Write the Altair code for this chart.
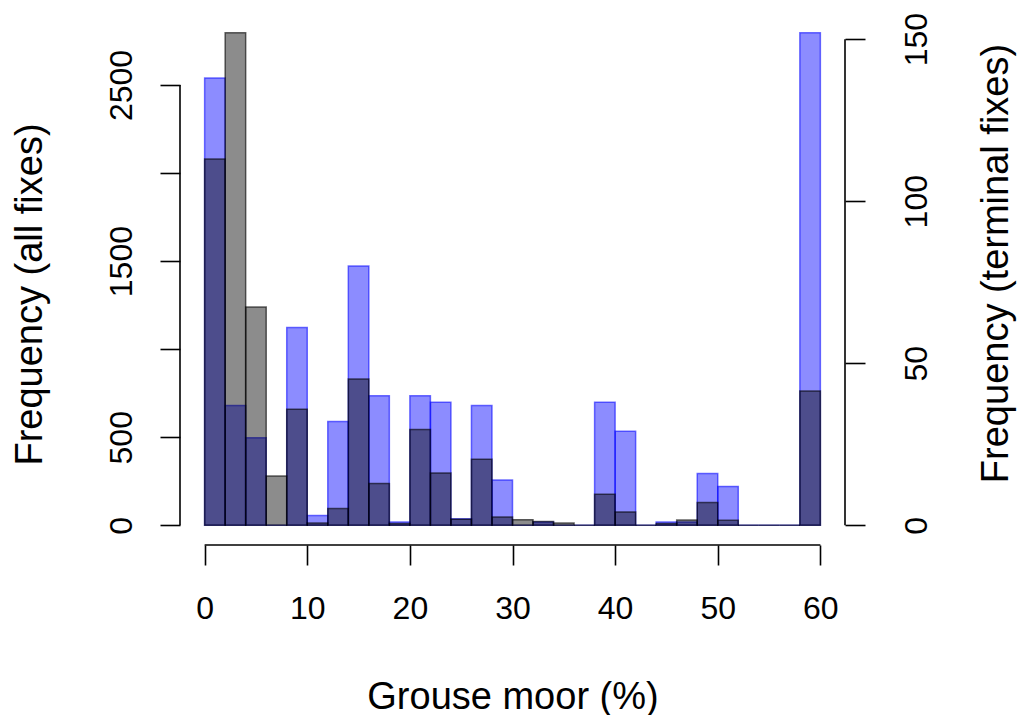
import altair as alt
import pandas as pd

# ---- data (bins of width 2 on 0..60 %) ----
bin_start = list(range(0, 60, 2))
all_fixes = [2080, 2797, 1240, 280, 659, 13, 95, 830, 237, 10,
             544, 297, 35, 375, 47, 32, 22, 13, 0, 176,
             76, 0, 10, 30, 129, 28, 0, 0, 0, 763]
terminal_fixes = [138, 37, 27, 0, 61, 3, 32, 80, 40, 1,
                  40, 38, 2, 37, 14, 0, 1, 0, 0, 38,
                  29, 0, 1, 1, 16, 12, 0, 0, 0, 152]
x_ticks = [0, 10, 20, 30, 40, 50, 60]
left_ticks = [0, 500, 1000, 1500, 2000, 2500]
right_ticks = [0, 50, 100, 150]

W, H = 665, 532
FONT = "Liberation Sans"
FS = 32
TFS = 38

df = pd.DataFrame({
    "start": bin_start,
    "end": [s + 2 for s in bin_start],
    "all": all_fixes,
    "term": terminal_fixes,
    "zero": [0] * len(bin_start),
})
xline = pd.DataFrame({"a": [x_ticks[0]], "b": [x_ticks[-1]]})
lline = pd.DataFrame({"a": [left_ticks[0]], "b": [left_ticks[-1]]})
rline = pd.DataFrame({"a": [right_ticks[0]], "b": [right_ticks[-1]]})

xr = x_ticks[-1] - x_ticks[0]
xscale = alt.Scale(domain=[x_ticks[0] - 0.04 * xr, x_ticks[-1] + 0.04 * xr], nice=False, zero=False)
ma, mt = max(all_fixes), max(terminal_fixes)
yall = alt.Scale(domain=[-0.04 * ma, 1.04 * ma], nice=False, zero=False)
yterm = alt.Scale(domain=[-0.04 * mt, 1.04 * mt], nice=False, zero=False)

common_axis = dict(domain=False, grid=False, tickSize=20, tickWidth=1.6, tickColor="black",
                   labelFont=FONT, labelFontSize=FS, labelColor="black", format="d",
                   titleFont=FONT, titleFontSize=TFS, titleColor="black", titleFontWeight="normal",
                   labelOverlap=False, labelFlush=False)

xaxis = alt.Axis(values=x_ticks, title="Grouse moor (%)", labelPadding=28,
                 labelBaseline="top", titleX=W / 2, titleY=152, titleAlign="center",
                 titleBaseline="middle", **common_axis)

# blue histogram: terminal fixes (right axis)
blue_bars = alt.Chart(df).mark_rect(
    fill="#0000ff", fillOpacity=0.45, stroke="#0000ff", strokeOpacity=0.55, strokeWidth=1.5
).encode(
    x=alt.X("start:Q", scale=xscale, axis=xaxis),
    x2="end:Q",
    y=alt.Y("term:Q", scale=yterm,
            axis=alt.Axis(orient="right", values=right_ticks, title="Frequency (terminal fixes)",
                          labelAngle=270, labelAlign="center", labelBaseline="alphabetic",
                          labelPadding=61, titleAngle=270, titleX=151, titleY=250,
                          titleAlign="center", titleBaseline="middle", **common_axis)),
    y2="zero:Q",
)
right_line = alt.Chart(rline).mark_rule(color="black", strokeWidth=1.6).encode(
    y=alt.Y("a:Q", scale=yterm), y2="b:Q", x=alt.value(W)
)

# gray histogram: all fixes (left axis)
gray_bars = alt.Chart(df).mark_rect(
    fill="#000000", fillOpacity=0.45, stroke="#000000", strokeOpacity=0.6, strokeWidth=1.5
).encode(
    x=alt.X("start:Q", scale=xscale, axis=xaxis),
    x2="end:Q",
    y=alt.Y("all:Q", scale=yall,
            axis=alt.Axis(orient="left", values=left_ticks, title="Frequency (all fixes)",
                          labelExpr="(datum.value == 1000 || datum.value == 2000) ? '' : datum.label",
                          labelAngle=270, labelAlign="center", labelBaseline="alphabetic",
                          labelPadding=29, titleAngle=270, titleX=-150, titleY=281,
                          titleAlign="center", titleBaseline="middle", **common_axis)),
    y2="zero:Q",
)
left_line = alt.Chart(lline).mark_rule(color="black", strokeWidth=1.6).encode(
    y=alt.Y("a:Q", scale=yall), y2="b:Q", x=alt.value(0)
)
x_line = alt.Chart(xline).mark_rule(color="black", strokeWidth=1.6).encode(
    x=alt.X("a:Q", scale=xscale, axis=xaxis), x2="b:Q", y=alt.value(H)
)

blue_layer = alt.layer(blue_bars, right_line)
gray_layer = alt.layer(gray_bars, left_line, x_line)

chart = alt.layer(blue_layer, gray_layer).resolve_scale(y="independent").properties(
    width=W, height=H,
    autosize=alt.AutoSizeParams(type="none"),
    padding={"left": 172, "top": 5, "right": 172, "bottom": 170},
).configure(background="white").configure_view(stroke=None, strokeWidth=0)

chart.save("out.html", embed_options={"renderer": "svg", "actions": False})
